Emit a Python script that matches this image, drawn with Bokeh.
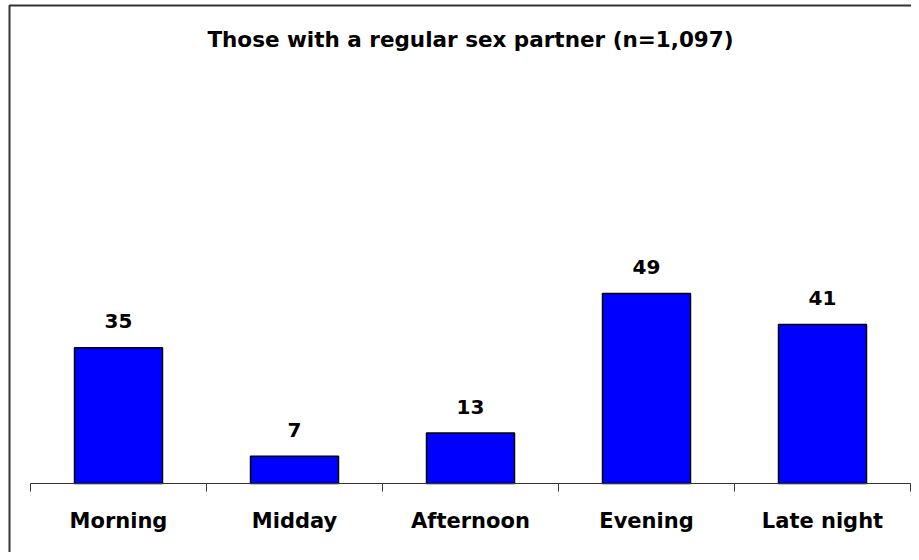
from bokeh.plotting import figure
from bokeh.models import ColumnDataSource, LabelSet, Label, FixedTicker, Range1d, BoxAnnotation
from bokeh.core.properties import value
from bokeh.embed import file_html
from bokeh.resources import INLINE

categories = ["Morning", "Midday", "Afternoon", "Evening", "Late night"]
values = [35, 7, 13, 49, 41]
title_text = "Those with a regular sex partner (n=1,097)"

xs = [i + 0.5 for i in range(len(categories))]
boundaries = list(range(len(categories) + 1))
src = ColumnDataSource(dict(x=xs, top=values, label=[str(v) for v in values], cat=categories))

p = figure(width=911, height=552, output_backend="svg", toolbar_location=None,
           x_range=Range1d(-0.17045, 5.0057), y_range=Range1d(-17.78, 124.48),
           y_axis_location=None,
           min_border_left=0, min_border_right=0, min_border_top=0, min_border_bottom=0)
p.outline_line_color = None
p.grid.visible = False

# outer chart frame (only its left and top edges fall inside the picture)
frame_box = BoxAnnotation(left=9, right=3000, top=5, bottom=3000,
                          left_units="canvas", right_units="canvas",
                          top_units="canvas", bottom_units="canvas",
                          fill_alpha=0, fill_color=None,
                          line_color="#333333", line_alpha=1.0, line_width=2)
p.add_layout(frame_box)

p.vbar(x="x", top="top", bottom=0, width=0.5, source=src,
       fill_color="#0000FF", line_color="black", line_width=1.5)

ax = p.xaxis[0]
ax.fixed_location = 0
ax.bounds = (0, len(categories))
ax.ticker = FixedTicker(ticks=xs, minor_ticks=boundaries)
ax.major_label_overrides = dict(zip(xs, categories))
ax.major_tick_line_color = None
ax.major_tick_out = 0
ax.major_tick_in = 0
ax.minor_tick_in = 0
ax.minor_tick_out = 8
ax.minor_tick_line_color = "#333333"
ax.axis_line_color = "#333333"
ax.major_label_standoff = 17
ax.major_label_text_font = "DejaVu Sans"
ax.major_label_text_font_style = "bold"
ax.major_label_text_font_size = "21px"
ax.major_label_text_color = "black"

labels = LabelSet(x="x", y="top", text="label", source=src, y_offset=19.5,
                  text_align="center", text_baseline="alphabetic",
                  text_font=value("DejaVu Sans"), text_font_style="bold",
                  text_font_size="20px", text_color="black")
p.add_layout(labels)

title = Label(x=len(categories) / 2, y=114.5, text=title_text,
              text_align="center", text_baseline="alphabetic",
              text_font="DejaVu Sans", text_font_style="bold",
              text_font_size="21.5px", text_color="black")
p.add_layout(title)

open("out.html", "w").write(file_html(p, INLINE))
